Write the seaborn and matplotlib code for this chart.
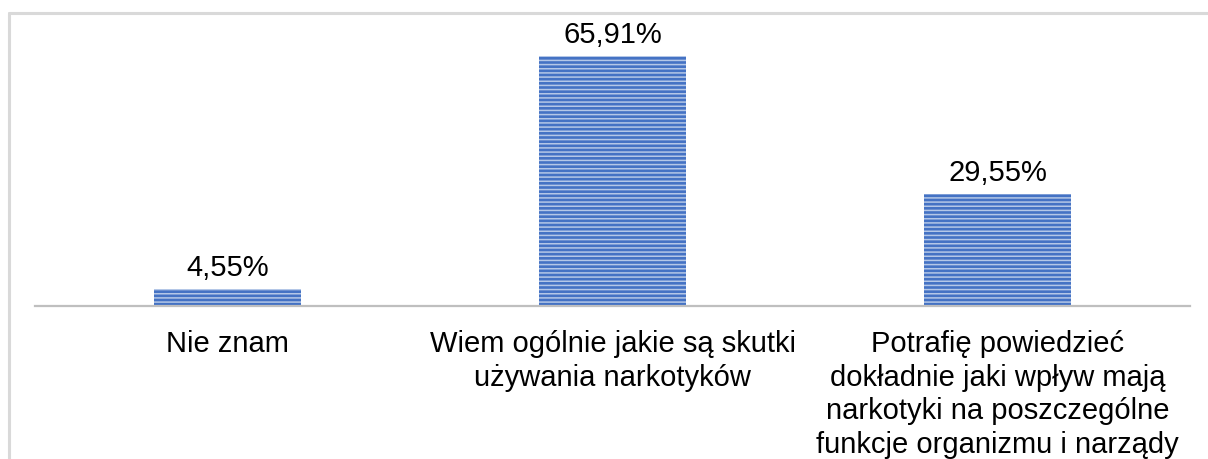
import matplotlib
matplotlib.use("Agg")
import matplotlib.pyplot as plt
import seaborn as sns
import pandas as pd
from matplotlib.lines import Line2D

categories = [
    "Nie znam",
    "Wiem ogólnie jakie są skutki\nużywania narkotyków",
    "Potrafię powiedzieć\ndokładnie jaki wpływ mają\nnarkotyki na poszczególne\nfunkcje organizmu i narządy",
]
values = [4.55, 65.91, 29.55]
value_labels = ["4,55%", "65,91%", "29,55%"]

sns.set_theme(style="white")
plt.rcParams["font.family"] = ["Liberation Sans", "DejaVu Sans"]
plt.rcParams["hatch.linewidth"] = 1.1

W, H = 1208, 459
fig = plt.figure(figsize=(W / 100, H / 100), dpi=100)
ax_left, ax_right = 35 / W, 1190 / W
ax_bottom = 1 - 306 / H
ymax = 75.0
px_per_unit = 250 / 65.91
ax_h = ymax * px_per_unit / H
ax = fig.add_axes([ax_left, ax_bottom, ax_right - ax_left, ax_h])

df = pd.DataFrame({"cat": categories, "val": values})
sns.barplot(data=df, x="cat", y="val", ax=ax, color="#4472C4", width=0.384,
            saturation=1, edgecolor="#B4C7E7", linewidth=0, hatch="----")
for p in ax.patches:
    p.set_facecolor("#4472C4")
    p.set_hatch("----")
    p.set_edgecolor("#B4C7E7")
    p.set_linewidth(0)

ax.bar_label(ax.containers[0], labels=value_labels, padding=5, fontsize=21, color="#000000")

ax.set_xlim(-0.5, 2.5)
ax.set_ylim(0, ymax)
ax.set_xlabel("")
ax.set_ylabel("")
ax.set_yticks([])
for s in ["top", "right", "left"]:
    ax.spines[s].set_visible(False)
ax.spines["bottom"].set_color("#BFBFBF")
ax.spines["bottom"].set_linewidth(1.6)
ax.tick_params(axis="x", length=0, pad=17, labelsize=21, labelcolor="#000000")
for t in ax.get_xticklabels():
    t.set_linespacing(1.27)
    t.set_verticalalignment("top")
    t.set_horizontalalignment("center")

# outer chart frame (partially cropped)
fx, fy = 9 / W, 1 - 13 / H
fig.add_artist(Line2D([fx, 1.0], [fy, fy], transform=fig.transFigure, color="#D9D9D9", lw=2.2))
fig.add_artist(Line2D([fx, fx], [0, fy], transform=fig.transFigure, color="#D9D9D9", lw=2.2))

fig.savefig("out.png", dpi=100)
